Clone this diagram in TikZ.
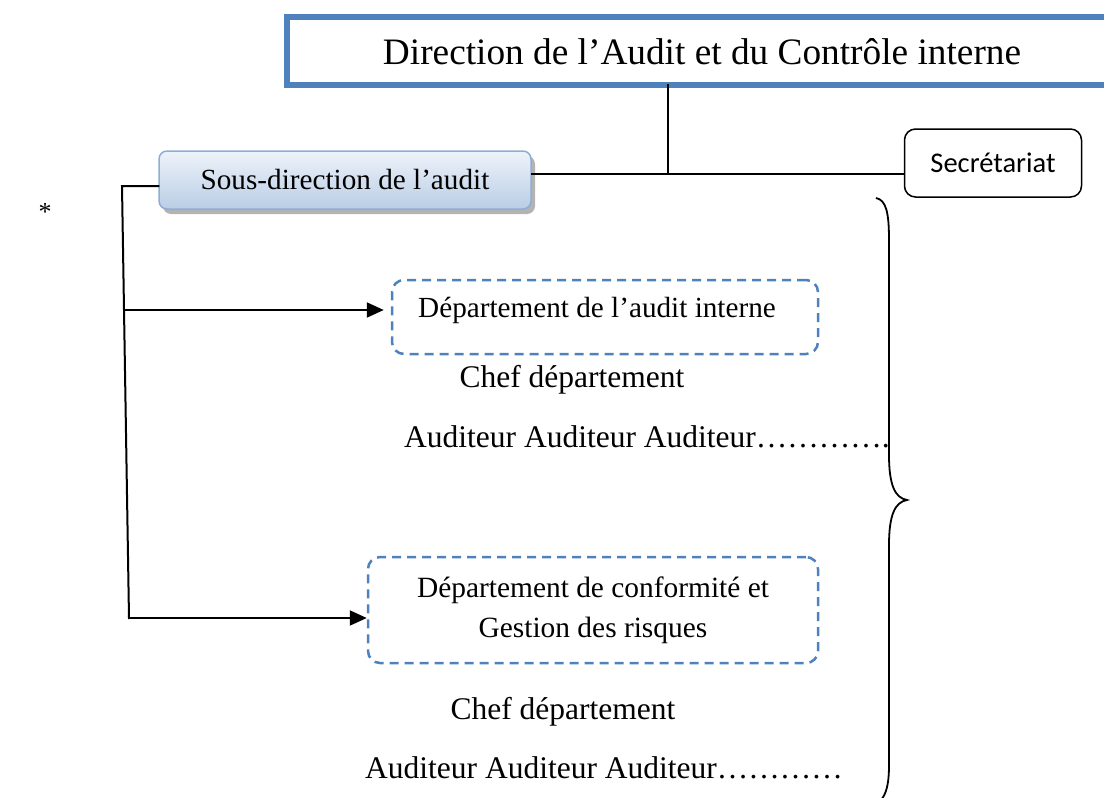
\documentclass[tikz,border=0pt]{standalone}
\usepackage{fontspec}
\setmainfont{Liberation Serif}
\newfontfamily\calib{Carlito}
\usetikzlibrary{arrows.meta,shadows}
\definecolor{ablue}{HTML}{4F81BD}
\definecolor{gtop}{HTML}{EEF3FA}
\definecolor{gbot}{HTML}{B9CDE5}
\definecolor{gborder}{HTML}{8EADD6}
\tikzset{
  conn/.style={line width=2pt, line cap=rect},
  arr/.style={line width=2pt, -{Triangle[length=17pt,width=15pt]}},
  dept/.style={draw=ablue, line width=2.5pt, dash pattern=on 9pt off 6pt, rounded corners=12pt, inner sep=0pt, align=center},
  txt/.style={inner sep=0pt, font=\fontsize{31.5}{38}\selectfont},
}
\begin{document}
\begin{tikzpicture}[x=1pt,y=-1pt]
\useasboundingbox (0,0) rectangle (1104,798);
% top box (right side runs off the page)
\node[minimum width=817pt, minimum height=68pt, inner sep=0pt, outer sep=0pt] (top) at (695.5,51) {};
\draw[ablue, line width=6pt, line join=miter, line cap=butt] (top.north east) -- (top.north west) -- (top.south west) -- (top.south east);
\node[inner sep=0pt, font=\fontsize{37.3}{44}\selectfont] (toptext) at (702,52) {Direction de l’Audit et du Contrôle interne};
% sous-direction
\node[draw=gborder, line width=1.5pt, rounded corners=8pt, top color=gtop, bottom color=gbot,
      drop shadow={shadow xshift=4pt, shadow yshift=-5pt, fill=black!50, opacity=0.6},
      minimum width=372pt, minimum height=58pt, inner sep=0pt,
      font=\fontsize{29.2}{35}\selectfont] (sous) at (345,180) {Sous-direction de l’audit};
% secretariat
\node[draw, line width=1.5pt, rounded corners=11pt, minimum width=177pt, minimum height=68pt, inner sep=0pt,
      font=\calib\fontsize{28.5}{34}\selectfont] (secr) at (993,163) {Secrétariat};
% junction
\coordinate (j) at (668,174);
\draw[conn] (top.south -| j) -- (j);
\draw[conn] (sous.east |- j) -- (secr.west |- j);
% left connector
\coordinate (a) at (122,186);
\coordinate (b) at (129,618);
\coordinate (c) at (123,310);
\draw[conn] (sous.west |- a) -- (a) -- (b);
% departments
\node[dept, minimum width=426pt, minimum height=74pt] (d1) at (605,317) {};
\node[inner sep=0pt, font=\fontsize{29.2}{35}\selectfont] (d1t) at (597,310) {Département de l’audit interne};
\node[dept, minimum width=450pt, minimum height=106pt, font=\fontsize{29.4}{40}\selectfont] (d2) at (593,610) {Département de conformité et\\Gestion des risques};
\draw[arr, shorten >=7pt] (c) -- (d1.west |- c);
\draw[arr] (b) -- (d2.west |- b);
% texts
\node[txt] (chef1) at (572,380) {Chef département};
\node[txt, anchor=base west] (aud1) at (404,447) {Auditeur Auditeur Auditeur………….};
\node[txt] (chef2) at (563,712) {Chef département};
\node[txt, anchor=base west] (aud2) at (365,778) {Auditeur Auditeur Auditeur…………};
% asterisk
\node[inner sep=0pt, font=\fontsize{26}{30}\selectfont] (ast) at (45,212) {*};
% brace
\draw[line width=1.8pt] (876,198) .. controls (886,200) and (889,212) .. (889,240)
  -- (889,455) .. controls (889,485) and (895,498) .. (907,500)
  .. controls (895,502) and (889,515) .. (889,545)
  -- (889,765) .. controls (889,785) and (886,794) .. (881,800);
\end{tikzpicture}
\end{document}
